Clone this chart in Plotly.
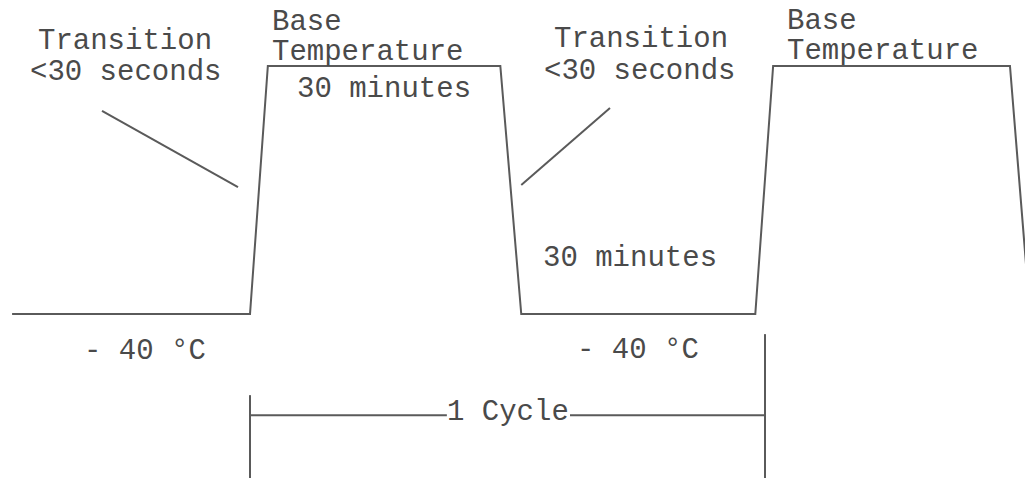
import plotly.graph_objects as go

# Temperature profile: time in minutes (cycle starts at 0), level 0 = -40 °C, 1 = base temperature
profile_time = [-30.7, 0.0, 2.3, 32.3, 35.0, 65.2, 67.5, 98.06, 100.65]
profile_level = [0.0, 0.0, 1.0, 1.0, 0.0, 0.0, 1.0, 1.0, 0.0]

# Pointer lines from the "Transition" labels to the ramps
pointer_left_time = [-19.1, -1.55]
pointer_left_level = [0.819, 0.512]
pointer_right_time = [46.45, 35.0]
pointer_right_level = [0.831, 0.52]

# "1 Cycle" bracket
cycle_start, cycle_end = 0.0, 66.45
cycle_level = -0.408
cycle_label_gap = [25.4, 41.29]
cycle_left_top, cycle_right_top, bracket_bottom = -0.327, -0.081, -0.75

# Labels: (text, time, level, anchor)
labels = [
    ("Transition", -16.13, 1.098, "center"),
    ("&lt;30 seconds", -16.13, 0.975, "center"),
    ("Base", 2.6, 1.177, "left"),
    ("Temperature", 2.6, 1.055, "left"),
    ("30 minutes", 17.29, 0.905, "center"),
    ("Transition", 50.39, 1.106, "center"),
    ("&lt;30 seconds", 50.32, 0.979, "center"),
    ("Base", 69.05, 1.18, "left"),
    ("Temperature", 69.05, 1.06, "left"),
    ("30 minutes", 49.03, 0.225, "center"),
    ("- 40 °C", -13.6, -0.15, "center"),
    ("- 40 °C", 50.06, -0.146, "center"),
    ("1 Cycle", 33.3, -0.398, "center"),
]

line_color = "#5a5a5a"
text_color = "#4a4a4a"
font_family = "Courier New, Liberation Mono, monospace"

fig = go.Figure()

def add_line(xs, ys):
    fig.add_trace(go.Scatter(x=xs, y=ys, mode="lines",
                             line=dict(color=line_color, width=2),
                             hoverinfo="skip", showlegend=False))

add_line(profile_time, profile_level)
add_line(pointer_left_time, pointer_left_level)
add_line(pointer_right_time, pointer_right_level)
add_line([cycle_start, cycle_label_gap[0]], [cycle_level, cycle_level])
add_line([cycle_label_gap[1], cycle_end], [cycle_level, cycle_level])
add_line([cycle_start, cycle_start], [cycle_left_top, bracket_bottom])
add_line([cycle_end, cycle_end], [cycle_right_top, bracket_bottom])

for text, t, lvl, anchor in labels:
    fig.add_annotation(x=t, y=lvl, xref="x", yref="y", text=text, showarrow=False,
                       xanchor=anchor, yanchor="middle",
                       font=dict(family=font_family, size=29, color=text_color))

fig.update_xaxes(range=[-32.26, 100.0], visible=False, fixedrange=True)
fig.update_yaxes(range=[-0.661, 1.266], visible=False, fixedrange=True)
fig.update_layout(width=1025, height=478, margin=dict(l=0, r=0, t=0, b=0),
                  plot_bgcolor="white", paper_bgcolor="white")

fig.write_html("out.html", config={"displayModeBar": False},
               post_script="document.body.style.margin='0';document.body.style.overflow='hidden';")
